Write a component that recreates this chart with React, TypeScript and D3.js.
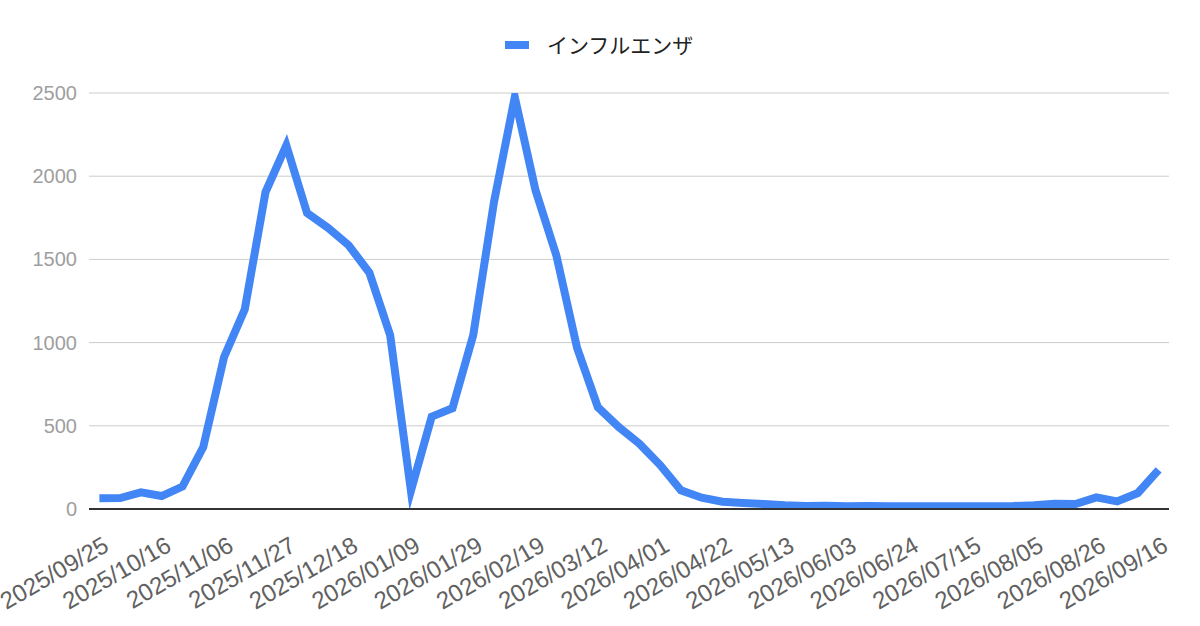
import * as React from "react";
import * as d3 from "d3";

// weekly report dates (every third one is shown on the axis)
const dates = [
  "2025/09/25", "2025/10/02", "2025/10/09", "2025/10/16", "2025/10/23", "2025/10/30",
  "2025/11/06", "2025/11/13", "2025/11/20", "2025/11/27", "2025/12/04", "2025/12/11",
  "2025/12/18", "2025/12/25", "2026/01/01", "2026/01/09", "2026/01/15", "2026/01/22",
  "2026/01/29", "2026/02/05", "2026/02/12", "2026/02/19", "2026/02/26", "2026/03/05",
  "2026/03/12", "2026/03/19", "2026/03/26", "2026/04/01", "2026/04/08", "2026/04/15",
  "2026/04/22", "2026/04/29", "2026/05/06", "2026/05/13", "2026/05/20", "2026/05/27",
  "2026/06/03", "2026/06/10", "2026/06/17", "2026/06/24", "2026/07/01", "2026/07/08",
  "2026/07/15", "2026/07/22", "2026/07/29", "2026/08/05", "2026/08/12", "2026/08/19",
  "2026/08/26", "2026/09/02", "2026/09/09", "2026/09/16",
];

const influenza = [
  64, 66, 100, 78, 135, 372, 912, 1200, 1905, 2185, 1778, 1690,
  1585, 1420, 1045, 110, 555, 605, 1045, 1845, 2475, 1915, 1525, 968,
  612, 493, 393, 264, 112, 68, 44, 36, 30, 22, 18, 20,
  17, 18, 17, 17, 16, 17, 16, 17, 18, 22, 32, 30,
  70, 46, 96, 235,
];

const seriesName = "インフルエンザ";
const yTicks = [0, 500, 1000, 1500, 2000, 2500];

const W = 1200;
const H = 626;
const left = 89;
const right = 1169;
const top = 93;
const bottom = 509;
const font = "'Liberation Sans', Arial, 'Noto Sans CJK JP', sans-serif";

export default function App() {
  const x = d3.scalePoint<string>().domain(dates).range([left, right]).padding(0.5);
  const y = d3.scaleLinear().domain([0, 2500]).range([bottom, top]);

  const line = d3
    .line<number>()
    .x((_, i) => x(dates[i]) as number)
    .y((d) => y(d));

  const shown = dates.filter((_, i) => i % 3 === 0);

  return (
    <div style={{ position: "fixed", left: 0, top: 0 }}>
      <svg width={W} height={H} style={{ display: "block", background: "#fff" }} fontFamily={font}>
        <defs>
          <clipPath id="plot">
            <rect x={left} y={top} width={right - left} height={bottom - top} />
          </clipPath>
        </defs>

        {/* legend */}
        <line x1={505} x2={529} y1={45} y2={45} stroke="#4285f4" strokeWidth={8} />
        <text x={547} y={45} fontSize={21} fill="#222" dominantBaseline="central">
          {seriesName}
        </text>

        {/* gridlines + y labels */}
        {yTicks.map((t) => (
          <g key={t}>
            {t > 0 && (
              <line x1={left} x2={right} y1={y(t)} y2={y(t)} stroke="#cccccc" strokeWidth={1} />
            )}
            <text
              x={77}
              y={y(t)}
              textAnchor="end"
              dominantBaseline="central"
              fontSize={20}
              fill="#9e9e9e"
            >
              {t}
            </text>
          </g>
        ))}

        <path
          d={line(influenza) || ""}
          fill="none"
          stroke="#4285f4"
          strokeWidth={8}
          strokeLinejoin="miter"
          strokeMiterlimit={10}
          clipPath="url(#plot)"
        />

        {/* baseline */}
        <line x1={left} x2={right} y1={bottom} y2={bottom} stroke="#333" strokeWidth={2} />

        {/* x labels */}
        {shown.map((d) => (
          <text
            key={d}
            transform={`translate(${(x(d) as number) + 11},550) rotate(-30)`}
            textAnchor="end"
            fontSize={24}
            fill="#616161"
          >
            {d}
          </text>
        ))}
      </svg>
    </div>
  );
}
